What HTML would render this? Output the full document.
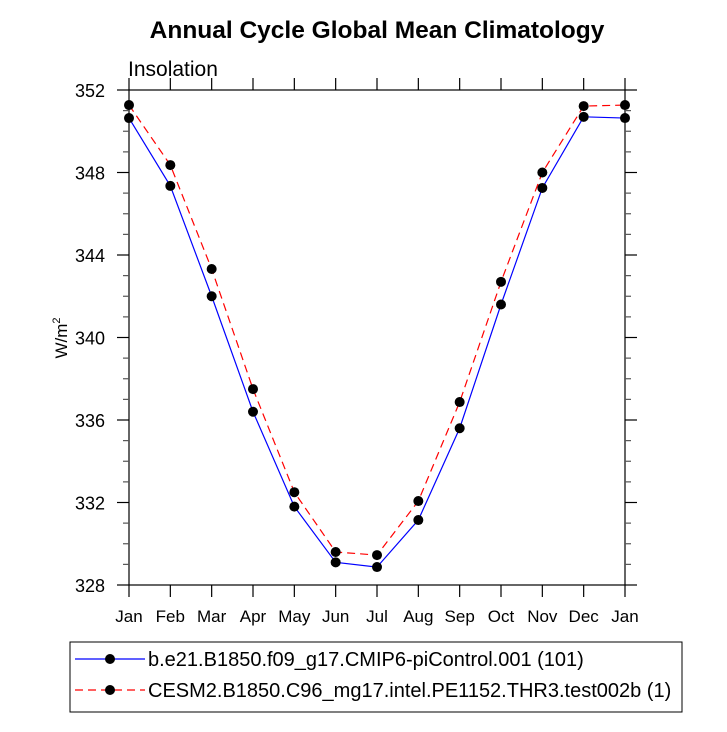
<!DOCTYPE html>
<html><head><meta charset="utf-8"><style>
body{margin:0;background:#fff;}
svg text{font-family:"Liberation Sans",sans-serif;}
</style></head><body>
<svg id="chart" width="727" height="727" xmlns="http://www.w3.org/2000/svg">
<text x="377" y="38" text-anchor="middle" font-size="24.5" font-weight="bold">Annual Cycle Global Mean Climatology</text>
<text x="128" y="76" font-size="21">Insolation</text>
<text transform="translate(67,338) rotate(-90)" text-anchor="middle" font-size="17">W/m<tspan font-size="11" dy="-7">2</tspan></text>
<rect x="129" y="90" width="496" height="495" fill="none" stroke="#000" stroke-width="1.2"/>
<g id="axes"></g>
<g id="series"></g>
<g>
<rect x="70" y="642" width="612" height="70" fill="none" stroke="#000"/>
<g>
<line x1="75" y1="659" x2="145" y2="659" stroke="#00f" stroke-width="1.2"/>
<circle cx="110" cy="659" r="5" fill="#000"/>
<text x="148" y="666" font-size="20">b.e21.B1850.f09_g17.CMIP6-piControl.001 (101)</text>
</g>
<g>
<line x1="75" y1="690" x2="145" y2="690" stroke="#f00" stroke-width="1.2" stroke-dasharray="8,5"/>
<circle cx="110" cy="690" r="5" fill="#000"/>
<text x="148" y="697" font-size="20">CESM2.B1850.C96_mg17.intel.PE1152.THR3.test002b (1)</text>
</g>
</g>
</svg>
<script>
const months=["Jan","Feb","Mar","Apr","May","Jun","Jul","Aug","Sep","Oct","Nov","Dec","Jan"];
const yTicks=[328,332,336,340,344,348,352];
const blueVals=[350.64,347.35,342.0,336.4,331.8,329.1,328.87,331.15,335.6,341.6,347.25,350.7,350.64];
const redVals=[351.27,348.36,343.32,337.5,332.5,329.6,329.45,332.07,336.87,342.7,348.0,351.22,351.27];
const NS="http://www.w3.org/2000/svg";
const X0=129,X1=625,Y0=585,Y1=90,YMIN=328,YMAX=352;
const xs=i=>X0+(X1-X0)*i/(months.length-1);
const ys=v=>Y0-(v-YMIN)/(YMAX-YMIN)*(Y0-Y1);
function mk(t,a,p){const e=document.createElementNS(NS,t);for(const k in a)e.setAttribute(k,a[k]);p.appendChild(e);return e;}
const ax=document.getElementById("axes");
months.forEach((m,i)=>{
 const x=xs(i);
 const t=mk("line",{x1:x,y1:Y0,x2:x,y2:Y0+12,stroke:"#000","stroke-width":"1.2"},ax);
 
 
 const t2=mk("line",{x1:x,y1:Y1,x2:x,y2:Y1-12,stroke:"#000","stroke-width":"1.2"},ax);
 
 
 const l=mk("text",{x:x,y:Y0+37,"text-anchor":"middle","font-size":"17"},ax);
 l.textContent=m;
 
 
});
for(let v=YMIN;v<=YMAX;v++){
 const y=ys(v),maj=(v-YMIN)%4===0,len=maj?12:6;
 const a=mk("line",{x1:X0,y1:y,x2:X0-len,y2:y,stroke:maj?"#000":"#555","stroke-width":"1.2"},ax);
 
 
 const b=mk("line",{x1:X1,y1:y,x2:X1+len,y2:y,stroke:maj?"#000":"#555","stroke-width":"1.2"},ax);
 
 
}
yTicks.forEach(v=>{
 const l=mk("text",{x:X0-24,y:ys(v)+7,"text-anchor":"end","font-size":"18"},ax);
 l.textContent=v;
 
 
});
const sg=document.getElementById("series");
function draw(vals,color,dash,name){
 const g=mk("g",{},sg);
 
 
 const pl=mk("polyline",{points:vals.map((v,i)=>xs(i)+","+ys(v)).join(" "),fill:"none",stroke:color,"stroke-width":"1.2","stroke-dasharray":dash},g);
 
 
 vals.forEach((v,i)=>{
  const c=mk("circle",{cx:xs(i),cy:ys(v),r:5,fill:"#000"},g);
  
  
 });
}
draw(blueVals,"#00f","none","series-picontrol");
draw(redVals,"#f00","8,5","series-test002b");
</script>
</body></html>
